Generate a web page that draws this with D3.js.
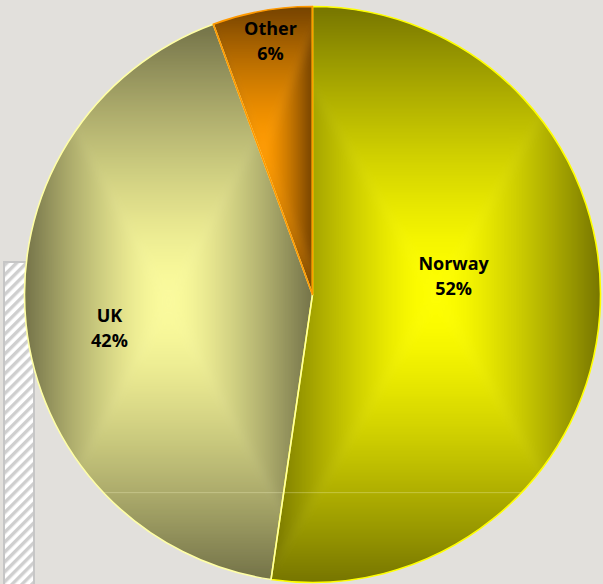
<!DOCTYPE html>
<html>
<head>
<meta charset="utf-8">
<script src="https://cdn.jsdelivr.net/npm/d3@7"></script>
<style>
  html, body { margin: 0; padding: 0; background: #e2e0dc; }
  svg { display: block; }
</style>
</head>
<body>
<script>
// ---- data ----
const categories = ["Norway", "UK", "Other"];
const values = [52.3, 42.1, 5.6];
const percentLabels = ["52%", "42%", "6%"];

// ---- styling (not data) ----
const W = 603, H = 584;
const cx = 312.5, cy = 294.5, R = 288;
const centerColors = { Norway: "#ffff00", UK: "#fbfb9c", Other: "#ff9a00" };
const edgeColors   = { Norway: "#767500", UK: "#737248", Other: "#744200" };
const strokeColors = { Norway: "#ffff00", UK: "#ffffa6", Other: "#ff9900" };
// label anchor (fraction of radius from centre)
const labelAnchor = { Norway: [0.49, -0.064], UK: [-0.705, 0.116], Other: [-0.146, -0.88] };
// gradient profile: offset (edge->centre) -> mix amount of centre colour
const profileOffsets = d3.range(0, 1.0001, 0.1);
const profileMix = o => Math.min(1, 1 - Math.pow(1 - Math.min(1, o / 0.95), 1.35));

const svg = d3.select("body").append("svg").attr("width", W).attr("height", H);
const defs = svg.append("defs");

svg.append("rect").attr("width", W).attr("height", H).attr("fill", "#e2e0dc");

const blur = defs.append("filter").attr("id", "soft")
  .attr("x", "-10%").attr("y", "-10%").attr("width", "120%").attr("height", "120%");
blur.append("feGaussianBlur").attr("stdDeviation", 4);

// hatched bar on the left
const pat = defs.append("pattern").attr("id", "hatch")
  .attr("patternUnits", "userSpaceOnUse").attr("width", 7).attr("height", 7)
  .attr("patternTransform", "rotate(45)");
pat.append("rect").attr("width", 7).attr("height", 7).attr("fill", "#ffffff");
pat.append("rect").attr("width", 3.4).attr("height", 7).attr("fill", "#cfcfcf");
svg.append("rect").attr("x", 4).attr("y", 262).attr("width", 30).attr("height", 330)
  .attr("fill", "url(#hatch)").attr("stroke", "#c6c6c6").attr("stroke-width", 2);

const pie = d3.pie().sort(null).value(d => d.value);
const arcs = pie(categories.map((c, i) => ({ name: c, value: values[i], label: percentLabels[i] })));
const arc = d3.arc().innerRadius(0).outerRadius(R);

const g = svg.append("g").attr("transform", `translate(${cx},${cy})`);

arcs.forEach((d, i) => {
  const name = d.data.name;
  const pathD = arc(d);
  const clipId = "clip" + i;
  defs.append("clipPath").attr("id", clipId).append("path").attr("d", pathD);

  const tmp = g.append("path").attr("d", pathD);
  const bb = tmp.node().getBBox();
  tmp.remove();
  const x0 = bb.x, y0 = bb.y, x1 = bb.x + bb.width, y1 = bb.y + bb.height;
  const mx = (x0 + x1) / 2, my = (y0 + y1) / 2;
  const interp = d3.interpolateRgb(edgeColors[name], centerColors[name]);

  const mk = (id, ax, ay, bx, by) => {
    const lg = defs.append("linearGradient").attr("id", id)
      .attr("gradientUnits", "userSpaceOnUse")
      .attr("x1", ax).attr("y1", ay).attr("x2", bx).attr("y2", by);
    profileOffsets.forEach(o => lg.append("stop").attr("offset", o).attr("stop-color", interp(profileMix(o))));
    return `url(#${id})`;
  };
  const sg = g.append("g").attr("clip-path", `url(#${clipId})`)
    .append("g").attr("filter", "url(#soft)");
  const e = 20;
  const tris = [
    { pts: [[x0 - e, y0 - e], [x1 + e, y0 - e], [mx, my]], fill: mk(`gT${i}`, mx, y0, mx, my) },
    { pts: [[x0 - e, y1 + e], [x1 + e, y1 + e], [mx, my]], fill: mk(`gB${i}`, mx, y1, mx, my) },
    { pts: [[x0 - e, y0 - e], [x0 - e, y1 + e], [mx, my]], fill: mk(`gL${i}`, x0, my, mx, my) },
    { pts: [[x1 + e, y0 - e], [x1 + e, y1 + e], [mx, my]], fill: mk(`gR${i}`, x1, my, mx, my) }
  ];
  tris.forEach(t => {
    sg.append("path").attr("d", "M" + t.pts.map(p => p.join(",")).join("L") + "Z")
      .attr("fill", t.fill);
  });
});

// faint rendering seam across the lower part of the pie
const seamClip = defs.append("clipPath").attr("id", "seamclip");
seamClip.append("circle").attr("r", R);
g.append("line").attr("clip-path", "url(#seamclip)")
  .attr("x1", -R).attr("x2", R).attr("y1", 0.688 * R).attr("y2", 0.688 * R)
  .attr("stroke", "#ffffd0").attr("stroke-opacity", 0.3).attr("stroke-width", 1);

arcs.forEach(d => {
  g.append("path").attr("d", arc(d)).attr("fill", "none")
    .attr("stroke", strokeColors[d.data.name]).attr("stroke-width", 1.6)
    .attr("stroke-linejoin", "round");
});

// labels
arcs.forEach(d => {
  const name = d.data.name;
  const [fx, fy] = labelAnchor[name];
  const lx = fx * R, ly = fy * R;
  const t = g.append("text").attr("text-anchor", "middle")
    .attr("font-family", "'Open Sans', sans-serif").attr("font-weight", 700)
    .attr("font-size", 18).attr("fill", "#000");
  t.append("tspan").attr("x", lx).attr("y", ly - 6).text(name);
  t.append("tspan").attr("x", lx).attr("y", ly + 19).text(d.data.label);
});
</script>
</body>
</html>
